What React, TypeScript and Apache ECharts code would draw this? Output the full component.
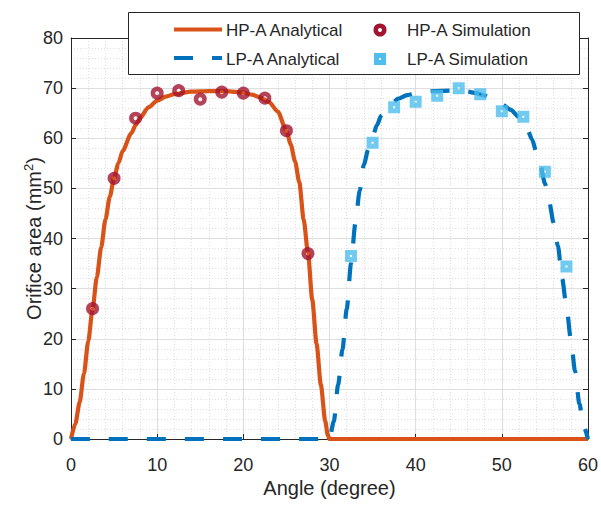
import React, { useEffect, useRef } from "react";
import * as echarts from "echarts";

const FONT = '"Liberation Sans", Arial, Helvetica, sans-serif';
const TXT = "#262626";

// HP-A analytical curve (angle in degree, area in mm^2)
const hpAngles = [0, 0.5, 1, 1.5, 2, 2.5, 3, 3.5, 4, 4.5, 5, 5.5, 6, 7, 7.5, 8, 9, 10, 11, 12, 14, 16, 18, 20, 21, 22, 23, 24, 25, 25.5, 26, 26.5, 27, 27.5, 28, 28.5, 29, 29.5, 29.8, 30, 60];
const hpArea = [0, 3, 7.3, 13, 19.5, 25.9, 32.3, 38.2, 43.8, 48.3, 52.1, 55, 57.5, 61, 62.6, 64, 66.2, 67.5, 68.3, 68.8, 69.3, 69.4, 69.4, 69.1, 68.7, 68.1, 67.2, 65.3, 61.5, 58.8, 55.4, 51.2, 43.8, 37.2, 27.8, 19, 10.8, 3.6, 0.8, 0, 0];

// LP-A analytical curve
const lpAngles = [0, 30, 30.5, 31, 31.5, 32, 32.5, 33, 33.5, 34, 34.5, 35, 35.5, 36, 37, 38, 39, 40, 42, 44, 46, 47, 48, 49, 50, 51, 52, 53, 53.5, 54, 54.5, 55, 55.5, 56, 56.5, 57, 57.5, 58, 58.5, 59, 59.5, 60];
const lpArea = [0, 0, 3.5, 10.8, 17.8, 25.9, 35, 43, 49.5, 54.8, 57.8, 60.3, 62.6, 64.5, 66.6, 67.9, 68.6, 69, 69.4, 69.5, 69.3, 69, 68.5, 67.7, 66.8, 65.7, 64.2, 61.6, 59.8, 57.3, 54.4, 51, 47.3, 43.2, 38.6, 32, 26.5, 20, 13.5, 7, 2.5, 0];

// Simulation points
const hpSimAngles = [2.5, 5, 7.5, 10, 12.5, 15, 17.5, 20, 22.5, 25, 27.5];
const hpSimArea = [26, 52, 64, 69, 69.5, 67.8, 69.2, 69, 68, 61.5, 37];
const lpSimAngles = [32.5, 35, 37.5, 40, 42.5, 45, 47.5, 50, 52.5, 55, 57.5];
const lpSimArea = [36.5, 59.1, 66.2, 67.3, 68.5, 70, 68.8, 65.4, 64.3, 53.3, 34.4];

const xTicks = { min: 0, max: 60, interval: 10 };
const yTicks = { min: 0, max: 80, interval: 10 };

const names = ["HP-A Analytical", "HP-A Simulation", "LP-A Analytical", "LP-A Simulation"];

const HP_LINE = "#D95319";
const LP_LINE = "#0072BD";
const HP_SIM = "#A2142F";
const LP_SIM = "#4DBEEE";

const zip = (xs: number[], ys: number[]) => xs.map((x, i) => [x, ys[i]]);

export default function App() {
  const ref = useRef<HTMLDivElement>(null);
  useEffect(() => {
    if (!ref.current) return;
    const chart = echarts.init(ref.current, null, { renderer: "svg" });
    const axisLine = { show: true, onZero: false, lineStyle: { color: TXT, width: 1 } };
    const axisTick = { show: true, inside: true, length: 5, lineStyle: { color: TXT, width: 1 } };
    const splitLine = { show: true, lineStyle: { color: "#dedede", width: 1 } };
    const minorSplitLine = { show: true, lineStyle: { color: "#dfdfdf", width: 1, type: [1, 2] } };
    const minorTick = { show: false, splitNumber: 5 };
    const legendText = (text: string, x: number, y: number) => ({
      type: "text",
      x,
      y,
      z: 101,
      style: { text, fontSize: 17, fontFamily: FONT, fill: TXT, verticalAlign: "middle", align: "left" },
    });
    chart.setOption({
      animation: false,
      backgroundColor: "#ffffff",
      grid: { left: 71, top: 38, right: 9, bottom: 60 },
      xAxis: [
        {
          type: "value",
          ...xTicks,
          position: "bottom",
          axisLine,
          axisTick,
          axisLabel: { fontSize: 18, color: TXT, margin: 17, fontFamily: FONT },
          splitLine,
          minorTick,
          minorSplitLine,
          name: "Angle (degree)",
          nameLocation: "middle",
          nameGap: 37,
          nameMoveOverlap: false,
          nameTextStyle: { fontSize: 20, color: TXT, fontFamily: FONT, lineHeight: 24 },
        },
        {
          type: "value",
          ...xTicks,
          position: "top",
          axisLine,
          axisTick,
          axisLabel: { show: false },
          splitLine: { show: false },
        },
      ],
      yAxis: [
        {
          type: "value",
          ...yTicks,
          position: "left",
          axisLine,
          axisTick,
          axisLabel: { fontSize: 18, color: TXT, margin: 8, fontFamily: FONT },
          splitLine,
          minorTick,
          minorSplitLine,
          name: "{a|Orifice area (mm}{b|2}{a|)}",
          nameLocation: "middle",
          nameGap: 25,
          nameMoveOverlap: false,
          nameTextStyle: {
            rich: {
              a: { fontSize: 20, color: TXT, fontFamily: FONT, lineHeight: 24 },
              b: { fontSize: 13, color: TXT, fontFamily: FONT, lineHeight: 14, verticalAlign: "top" },
            },
          },
        },
        {
          type: "value",
          ...yTicks,
          position: "right",
          axisLine,
          axisTick,
          axisLabel: { show: false },
          splitLine: { show: false },
        },
      ],
      graphic: [
        {
          type: "rect",
          z: 100,
          shape: { x: 128.5, y: 12.5, width: 451, height: 62 },
          style: { fill: "#ffffff", stroke: TXT, lineWidth: 1 },
        },
        {
          type: "line",
          z: 101,
          shape: { x1: 174, y1: 29.5, x2: 222, y2: 29.5 },
          style: { stroke: HP_LINE, lineWidth: 4.2 },
        },
        legendText(names[0], 226, 30),
        {
          type: "circle",
          z: 101,
          shape: { cx: 380, cy: 30, r: 4.25 },
          style: { fill: "rgba(0,0,0,0)", stroke: HP_SIM, lineWidth: 4.5 },
        },
        legendText(names[1], 407, 30),
        {
          type: "line",
          z: 101,
          shape: { x1: 174, y1: 58, x2: 222, y2: 58 },
          style: { stroke: LP_LINE, lineWidth: 4.2, lineDash: [19, 19] },
        },
        legendText(names[2], 226, 59),
        {
          type: "rect",
          z: 101,
          shape: { x: 376.5, y: 55.5, width: 7, height: 7 },
          style: { fill: "rgba(0,0,0,0)", stroke: LP_SIM, lineWidth: 5 },
        },
        legendText(names[3], 407, 59),
      ],
      series: [
        {
          name: names[0],
          type: "line",
          data: zip(hpAngles, hpArea),
          symbol: "none",
          smooth: 0.25,
          smoothMonotone: "x",
          clip: false,
          z: 2,
          lineStyle: { color: HP_LINE, width: 4.2 },
          itemStyle: { color: HP_LINE },
        },
        {
          name: names[2],
          type: "line",
          data: zip(lpAngles, lpArea),
          symbol: "none",
          smooth: 0.25,
          smoothMonotone: "x",
          clip: false,
          z: 3,
          lineStyle: { color: LP_LINE, width: 4.2, type: [19, 19] },
          itemStyle: { color: LP_LINE },
        },
        {
          name: names[1],
          type: "scatter",
          data: zip(hpSimAngles, hpSimArea),
          symbol: "circle",
          symbolSize: 8.5,
          z: 4,
          itemStyle: { color: "rgba(0,0,0,0)", borderColor: HP_SIM, borderWidth: 4.5 },
        },
        {
          name: names[3],
          type: "scatter",
          data: zip(lpSimAngles, lpSimArea),
          symbol: "rect",
          symbolSize: 7,
          z: 4,
          itemStyle: { color: "rgba(0,0,0,0)", borderColor: LP_SIM, borderWidth: 5 },
        },
      ],
    });
    return () => chart.dispose();
  }, []);
  return (
    <div
      ref={ref}
      style={{ position: "fixed", left: 0, top: 0, width: 601, height: 505, background: "#fff" }}
    />
  );
}
